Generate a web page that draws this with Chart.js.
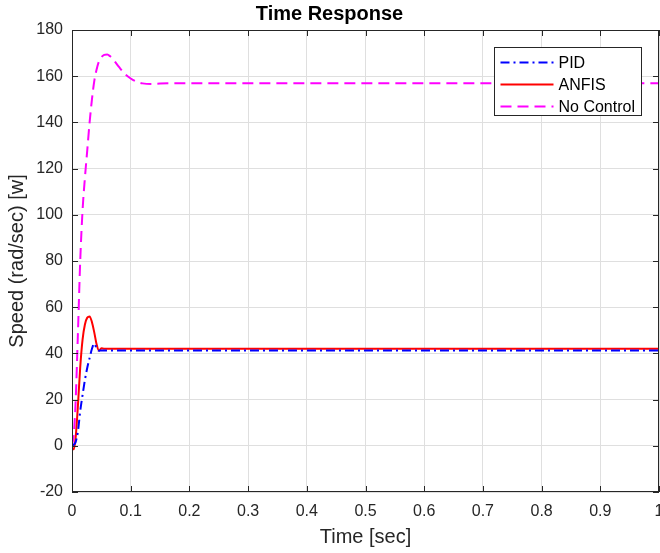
<!DOCTYPE html>
<html>
<head>
<meta charset="utf-8">
<script src="https://cdn.jsdelivr.net/npm/chart.js@4.4.1/dist/chart.umd.min.js"></script>
<style>
  html, body { margin: 0; padding: 0; background: #fff; }
</style>
</head>
<body>
<canvas id="chart" width="660" height="553"></canvas>
<script>
// sample times (sec) shared by all three responses
const timeSec = [0, 0.003, 0.006, 0.01, 0.014, 0.018, 0.022, 0.026, 0.03, 0.034, 0.038, 0.042, 0.046, 0.05, 0.055, 0.06, 0.065, 0.07, 0.08, 0.09, 0.1, 0.11, 0.12, 0.135, 0.15, 0.2, 0.3, 0.5, 0.7, 1.0];

const pidSpeed = [0, 0.5, 1.5, 6, 15, 22, 28.5, 33.8, 38, 42, 44.3, 42, 41.2, 41.3, 41.3, 41.3, 41.3, 41.3, 41.3, 41.3, 41.3, 41.3, 41.3, 41.3, 41.3, 41.3, 41.3, 41.3, 41.3, 41.3];
const anfisSpeed = [-1, -1.5, 3, 17, 34, 46, 52.5, 55.5, 56, 53.5, 49, 43.8, 41.2, 42.2, 42, 42, 42, 42, 42, 42, 42, 42, 42, 42, 42, 42, 42, 42, 42, 42];
const noControlSpeed = [0, 5, 18, 48, 80, 102, 116, 128, 140, 150, 158, 163, 166.5, 168.2, 169.2, 169.4, 168.6, 167.3, 164, 161, 159, 157.6, 156.9, 156.6, 156.8, 157, 157, 157, 157, 157];

const seriesNames = ['PID', 'ANFIS', 'No Control'];

const xRange = [0, 1];
const yRange = [-20, 180];

const textColor = '#262626';
const fontFamily = '"Liberation Sans", Arial, Helvetica, sans-serif';

function toPoints(values) {
    return timeSec.map((t, i) => ({ x: t, y: values[i] }));
}

// MATLAB style box with ticks pointing inwards on all four sides
const boxPlugin = {
    id: 'matlabBox',
    afterDatasetsDraw(chart) {
        const { ctx, chartArea: a, scales: { x, y } } = chart;
        const tl = 6;
        ctx.save();
        ctx.strokeStyle = textColor;
        ctx.lineWidth = 1;
        ctx.beginPath();
        x.ticks.forEach(t => {
            const px = Math.round(x.getPixelForValue(t.value)) + 0.5;
            ctx.moveTo(px, a.bottom); ctx.lineTo(px, a.bottom - tl);
            ctx.moveTo(px, a.top); ctx.lineTo(px, a.top + tl);
        });
        y.ticks.forEach(t => {
            const py = Math.round(y.getPixelForValue(t.value)) + 0.5;
            ctx.moveTo(a.left, py); ctx.lineTo(a.left + tl, py);
            ctx.moveTo(a.right, py); ctx.lineTo(a.right - tl, py);
        });
        ctx.stroke();
        ctx.strokeRect(Math.round(a.left) + 0.5, Math.round(a.top) + 0.5,
            Math.round(a.right - a.left) - 1, Math.round(a.bottom - a.top) - 1);
        ctx.restore();
    }
};

// legend box in the upper right corner of the axes
const legendPlugin = {
    id: 'insideLegend',
    afterDraw(chart) {
        const { ctx, chartArea: a } = chart;
        const boxW = 147, boxH = 68;
        const bx = a.right - 18 - boxW + 0.5;
        const by = a.top + 17 + 0.5;
        ctx.save();
        ctx.fillStyle = '#fff';
        ctx.fillRect(bx, by, boxW, boxH);
        ctx.strokeStyle = textColor;
        ctx.lineWidth = 1;
        ctx.strokeRect(bx, by, boxW, boxH);
        ctx.font = '16px ' + fontFamily;
        ctx.textBaseline = 'middle';
        ctx.fillStyle = '#000';
        chart.data.datasets.forEach((ds, i) => {
            const rowY = by + 15 + i * 22;
            ctx.strokeStyle = ds.borderColor;
            ctx.lineWidth = ds.borderWidth;
            ctx.setLineDash(ds.borderDash || []);
            ctx.beginPath();
            ctx.moveTo(bx + 6, rowY);
            ctx.lineTo(bx + 59, rowY);
            ctx.stroke();
            ctx.setLineDash([]);
            ctx.fillText(ds.label, bx + 64, rowY + 1);
        });
        ctx.restore();
    }
};

new Chart(document.getElementById('chart'), {
    type: 'line',
    data: {
        datasets: [
            {
                label: seriesNames[0],
                data: toPoints(pidSpeed),
                borderColor: '#0000ff',
                borderWidth: 2,
                borderDash: [9, 4, 2, 4],
                pointRadius: 0,
                cubicInterpolationMode: 'monotone'
            },
            {
                label: seriesNames[1],
                data: toPoints(anfisSpeed),
                borderColor: '#ff0000',
                borderWidth: 2,
                pointRadius: 0,
                cubicInterpolationMode: 'monotone'
            },
            {
                label: seriesNames[2],
                data: toPoints(noControlSpeed),
                borderColor: '#ff00ff',
                borderWidth: 2,
                borderDash: [11, 6],
                pointRadius: 0,
                cubicInterpolationMode: 'monotone'
            }
        ]
    },
    options: {
        responsive: false,
        animation: false,
        layout: { padding: { left: 0, right: 1, top: 0, bottom: 0 } },
        plugins: {
            legend: { display: false },
            tooltip: { enabled: false },
            title: {
                display: true,
                text: 'Time Response',
                color: '#000',
                font: { family: fontFamily, size: 20, weight: 'bold', lineHeight: 1.2 },
                padding: { top: 2, bottom: 4 }
            }
        },
        scales: {
            x: {
                type: 'linear',
                min: xRange[0],
                max: xRange[1],
                ticks: {
                    stepSize: 0.1,
                    color: textColor,
                    font: { family: fontFamily, size: 16 },
                    padding: 10,
                    maxRotation: 0,
                    callback: v => String(+v.toFixed(1))
                },
                grid: { color: '#dfdfdf', drawTicks: false },
                border: { display: false },
                title: {
                    display: true,
                    text: 'Time [sec]',
                    color: textColor,
                    font: { family: fontFamily, size: 20, lineHeight: 1.2 },
                    padding: { top: 0, bottom: 3.5 }
                },
                afterFit(scale) {
                    scale.height = 61;
                    scale.paddingLeft = 0;
                    scale.paddingRight = 0;
                }
            },
            y: {
                min: yRange[0],
                max: yRange[1],
                ticks: {
                    stepSize: 20,
                    color: textColor,
                    font: { family: fontFamily, size: 16 },
                    padding: 9
                },
                grid: { color: '#dfdfdf', drawTicks: false },
                border: { display: false },
                title: {
                    display: true,
                    text: 'Speed (rad/sec) [w]',
                    color: textColor,
                    font: { family: fontFamily, size: 20, lineHeight: 1.2 },
                    padding: { top: 5, bottom: 0 }
                },
                afterFit(scale) {
                    scale.width = 72;
                    scale.paddingTop = 0;
                    scale.paddingBottom = 0;
                }
            }
        }
    },
    plugins: [boxPlugin, legendPlugin]
});
</script>
</body>
</html>
